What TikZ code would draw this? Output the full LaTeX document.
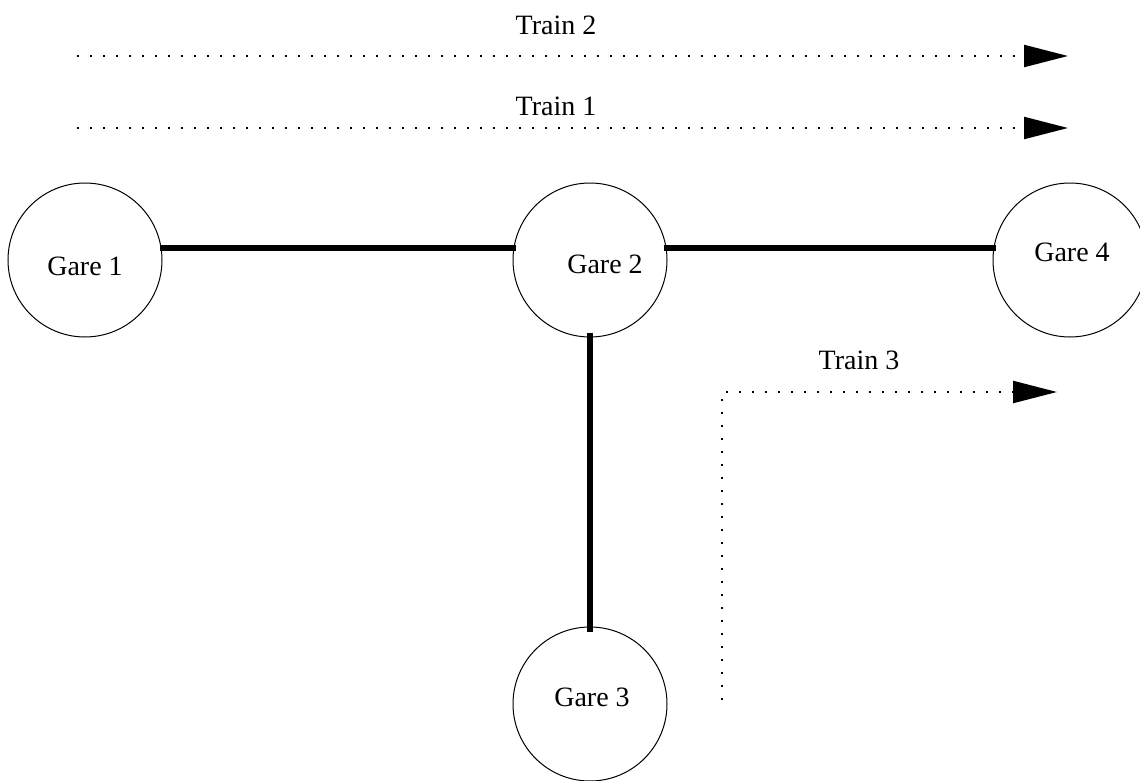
\documentclass[tikz,border=0pt]{standalone}
\usepackage{fontspec}
\setmainfont{Liberation Serif}
\usetikzlibrary{arrows.meta}
\begin{document}
\begin{tikzpicture}[x=1pt,y=1pt,
  gare/.style={draw,circle,line width=1pt,minimum size=154pt,inner sep=0pt},
  lbl/.style={inner sep=0pt,font=\fontsize{28}{33}\selectfont},
  track/.style={line width=6pt,line cap=butt},
  trainpath/.style={line width=2.2pt,dash pattern=on 2.2pt off 10.8pt,
    -{Triangle[length=44pt,width=22pt]}}]
  \useasboundingbox (0,0) rectangle (1140,-781);
  \begin{scope}
    \clip (0,0) rectangle (1140,-781);
    % stations
    \node[gare] (g1) at (85,-260) {};
    \node[gare] (g2) at (590,-260) {};
    \node[gare] (g3) at (590,-704) {};
    \node[gare] (g4) at (1070,-260) {};
  \end{scope}
  \node[lbl] (t1) at (85,-266) {Gare 1};
  \node[lbl] (t2) at (605,-264) {Gare 2};
  \node[lbl] (t3) at (592,-697) {Gare 3};
  \node[lbl] (t4) at (1072,-252) {Gare 4};
  % tracks between stations
  \draw[track] ([xshift=-2pt]g1.9) -- ([xshift=3pt]g2.171);
  \draw[track] ([xshift=-3pt]g2.9) -- ([xshift=3pt]g4.171);
  \draw[track] ([yshift=5pt]g2.south) -- ([yshift=-5pt]g3.north);
  % train movements
  \coordinate (a2s) at (77,-56);
  \coordinate (a2e) at (1068,-56);
  \coordinate (a1s) at (77,-128);
  \coordinate (a1e) at (1068,-128);
  \coordinate (a3s) at (722,-700);
  \coordinate (a3c) at (722,-392);
  \coordinate (a3e) at (1057,-392);
  \draw[trainpath] (a2s) -- (a2e);
  \draw[trainpath] (a1s) -- (a1e);
  \draw[trainpath] (a3s) -- (a3c) -- (a3e);
  \node[lbl] (l2) at (556,-25) {Train 2};
  \node[lbl] (l1) at (556,-106) {Train 1};
  \node[lbl] (l3) at (859,-360) {Train 3};
\end{tikzpicture}
\end{document}
